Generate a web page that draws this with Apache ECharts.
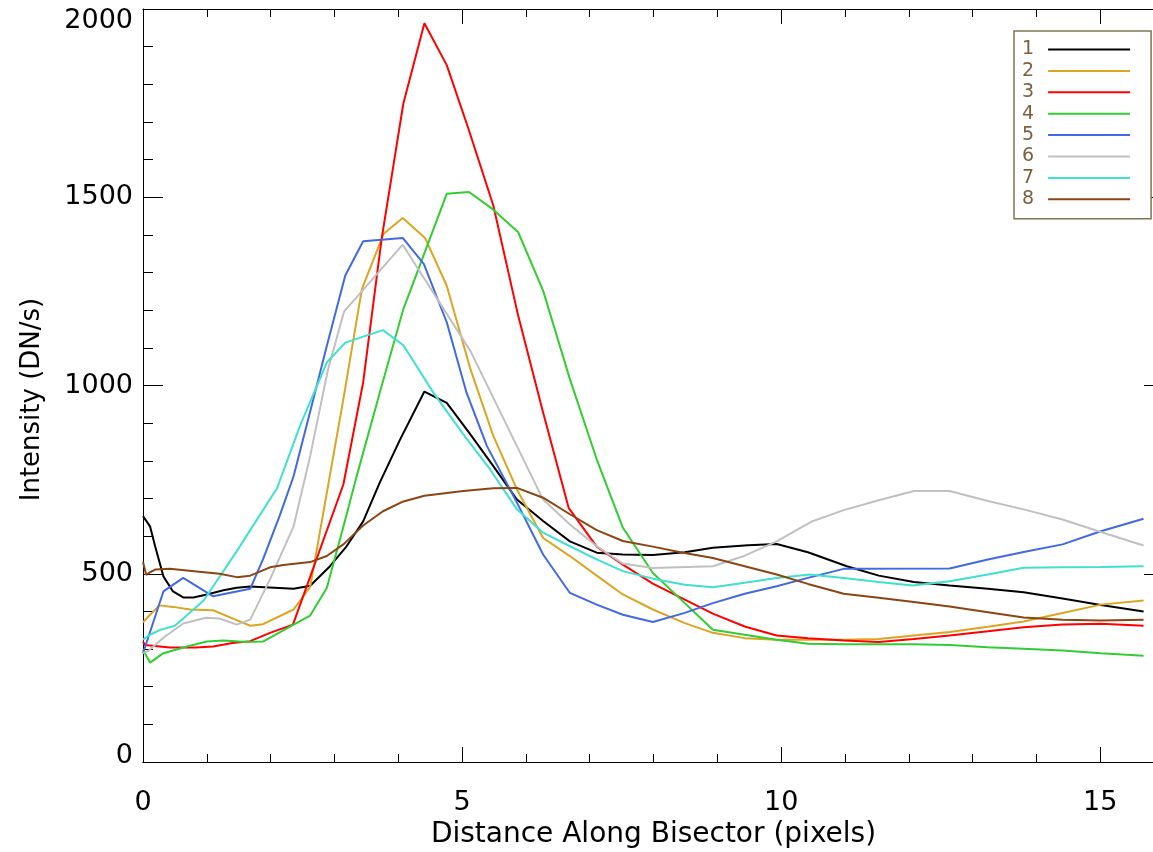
<!DOCTYPE html>
<html><head><meta charset="utf-8">
<script src="https://cdn.jsdelivr.net/npm/echarts@6/dist/echarts.min.js"></script>
<style>html,body{margin:0;padding:0;background:#fff}#c{width:1153px;height:852px}</style>
</head><body><div id="c"></div>
<script>
const seriesNames = ['1','2','3','4','5','6','7','8'];
const seriesColors = ['#000000','#DAA520','#FF0000','#32CD32','#4169E1','#C0C0C0','#40E0D0','#8B4513'];
const xTickLabels = [0,5,10,15];
const yTickLabels = [0,500,1000,1500,2000];

const line1 = [[0,653],[0.03,655],[0.11,626],[0.19,573],[0.32,493],[0.47,453],[0.63,437],[0.79,437],[1.0,445],[1.26,456],[1.47,463],[1.68,466],[2.36,460],[2.62,468],[2.93,520],[3.19,573],[3.45,639],[3.71,742],[4.03,857],[4.41,984],[4.76,954],[5.13,870],[5.49,786],[5.86,697],[6.27,640],[6.69,586],[7.11,556],[7.52,551],[7.99,550],[8.49,557],[8.93,569],[9.48,576],[9.93,579],[10.42,557],[11.03,520],[11.53,495],[12.08,478],[12.64,469],[13.24,460],[13.8,451],[14.41,434],[15.01,417],[15.68,400]];
const line2 = [[0,371],[0.11,391],[0.26,416],[0.47,412],[0.74,405],[1.1,403],[1.42,380],[1.68,362],[1.88,366],[2.36,405],[2.62,465],[3.14,964],[3.43,1256],[3.77,1403],[4.07,1445],[4.42,1392],[4.76,1265],[5.13,1044],[5.49,866],[5.86,724],[6.27,595],[6.69,547],[7.11,495],[7.52,445],[7.99,405],[8.49,369],[8.93,343],[9.43,329],[9.93,325],[10.42,325],[10.98,325],[11.53,327],[12.08,336],[12.64,345],[13.24,359],[13.8,373],[14.41,396],[15.01,418],[15.68,429]];
const line3 = [[0,320],[0.03,311],[0.15,309],[0.42,304],[0.82,304],[1.1,307],[1.4,316],[1.68,321],[1.99,343],[2.35,365],[3.14,737],[3.45,1008],[3.74,1390],[4.08,1749],[4.41,1962],[4.76,1851],[5.1,1682],[5.49,1478],[5.88,1185],[6.27,928],[6.67,675],[7.11,572],[7.52,524],[7.99,474],[8.49,431],[8.93,394],[9.43,360],[9.93,336],[10.42,329],[10.98,323],[11.53,319],[12.08,327],[12.64,336],[13.24,347],[13.8,358],[14.41,365],[15.01,367],[15.68,362]];
const line4 = [[0,298],[0.11,264],[0.32,289],[0.69,307],[1.0,320],[1.26,323],[1.62,319],[1.88,320],[2.36,365],[2.62,389],[2.88,462],[3.14,625],[3.35,760],[3.71,981],[4.08,1203],[4.76,1509],[5.11,1514],[5.49,1467],[5.88,1407],[6.27,1252],[6.69,1017],[7.11,804],[7.52,622],[7.99,502],[8.49,422],[8.93,351],[9.43,338],[9.93,325],[10.42,314],[10.98,313],[12.08,313],[12.64,311],[13.24,305],[13.8,301],[14.41,296],[15.01,289],[15.68,282]];
const line5 = [[0,289],[0.32,453],[0.63,489],[1.1,440],[1.68,460],[1.88,538],[2.14,653],[2.36,759],[2.67,964],[2.88,1105],[3.17,1292],[3.45,1383],[4.07,1392],[4.4,1323],[4.76,1168],[5.07,981],[5.39,839],[5.86,689],[6.27,551],[6.69,449],[7.11,418],[7.52,391],[7.99,372],[8.49,396],[8.93,422],[9.43,447],[9.93,467],[10.42,489],[10.98,513],[12.64,514],[13.24,538],[13.8,558],[14.41,578],[15.01,613],[15.68,646]];
const line6 = [[0,289],[0.09,296],[0.32,330],[0.63,368],[0.99,383],[1.2,381],[1.47,365],[1.68,378],[1.99,485],[2.36,626],[2.62,813],[2.9,1043],[3.15,1196],[4.07,1374],[5.13,1092],[6.27,697],[6.69,631],[7.11,573],[7.52,527],[7.99,515],[8.93,520],[9.43,548],[9.93,586],[10.47,638],[10.98,669],[11.53,695],[12.08,720],[12.64,720],[13.24,693],[13.8,671],[14.41,644],[15.01,611],[15.68,575]];
const line7 = [[0,325],[0.11,338],[0.27,351],[0.5,362],[0.95,429],[1.47,560],[2.1,727],[2.46,893],[2.88,1061],[3.17,1114],[3.76,1147],[4.08,1107],[4.55,981],[5.02,870],[5.44,777],[5.86,671],[6.27,609],[6.69,573],[7.11,538],[7.52,507],[7.99,487],[8.49,471],[8.93,464],[9.43,476],[9.93,489],[10.45,498],[10.98,489],[11.53,478],[12.06,469],[12.64,480],[13.24,498],[13.8,516],[14.41,517],[15.01,518],[15.68,520]];
const line8 = [[0,531],[0.05,497],[0.11,504],[0.19,511],[0.42,513],[0.84,506],[1.2,500],[1.47,491],[1.68,495],[1.99,517],[2.2,523],[2.62,531],[2.88,547],[3.14,578],[3.45,628],[3.76,666],[4.08,692],[4.41,707],[5.02,720],[5.49,727],[5.86,728],[6.27,702],[6.69,658],[7.11,616],[7.52,587],[7.99,572],[8.42,557],[8.93,542],[9.43,520],[9.93,498],[10.42,473],[10.98,447],[11.53,436],[12.08,425],[12.64,413],[13.24,398],[13.8,384],[14.41,378],[15.01,376],[15.68,378]];
const allLines = [line1,line2,line3,line4,line5,line6,line7,line8];

const FONT = 'DejaVu Sans';
const chart = echarts.init(document.getElementById('c'), null, {renderer:'canvas'});
const axisLineStyle = {color:'#000', width:1};
function xAx(pos, interval, len, labels, extra) {
  return Object.assign({
    type:'value', gridIndex:0, position:pos, min:0, max:16, interval:interval,
    axisLine:{show:true, onZero:false, lineStyle:axisLineStyle},
    axisTick:{show:true, inside:true, length:len, lineStyle:{color:'#000', width:1}},
    axisLabel:{show:labels, color:'#000', fontFamily:FONT, fontSize:27, margin:27,
      showMaxLabel:false,
      formatter: v => xTickLabels.includes(v) ? String(v) : ''},
    splitLine:{show:false}
  }, extra || {});
}
function yAx(pos, labels, extra) {
  return Object.assign({
    type:'value', position:pos, min:0, max:2000, interval:500,
    axisLine:{show:true, onZero:false, lineStyle:axisLineStyle},
    axisTick:{show:true, inside:true, length:20, lineStyle:{color:'#000', width:1}},
    minorTick:{show:true, splitNumber:5, length:10, lineStyle:{color:'#000', width:1}},
    axisLabel:{show:labels, color:'#000', fontFamily:FONT, fontSize:27, margin:10,
      formatter: v => {
        if (!yTickLabels.includes(v)) return '';
        if (v === yTickLabels[0]) return '{lo|' + v + '}';
        if (v === yTickLabels[yTickLabels.length-1]) return '{hi|' + v + '}';
        return String(v);
      },
      rich:{
        lo:{fontFamily:FONT, fontSize:27, color:'#000', padding:[0,0,12,0]},
        hi:{fontFamily:FONT, fontSize:27, color:'#000', padding:[24,0,0,0]}
      }},
    splitLine:{show:false}, minorSplitLine:{show:false}
  }, extra || {});
}
const option = {
  backgroundColor:'#fff',
  animation:false,
  grid:{left:143, top:9, width:1021, height:753, containLabel:false, outerBoundsMode:'none'},
  xAxis:[
    xAx('bottom', 1, 8, false),
    xAx('bottom', 5, 15, true, {name:'Distance Along Bisector (pixels)', nameLocation:'middle', nameGap:49,
      nameTextStyle:{fontFamily:FONT, fontSize:28, color:'#000'}}),
    xAx('top', 1, 8, false),
    xAx('top', 5, 15, false)
  ],
  yAxis:[
    yAx('left', true, {name:'Intensity (DN/s)', nameLocation:'middle', nameGap:98,
      nameTextStyle:{fontFamily:FONT, fontSize:26, color:'#000', padding:[0,28,0,0]}}),
    yAx('right', false)
  ],
  legend:{
    orient:'vertical', left:1014, top:31, align:'right',
    icon:'rect', itemWidth:82, itemHeight:2, itemGap:2.4,
    padding:[9,21,10,8], borderColor:'#7f7555', borderWidth:1.5, backgroundColor:'#fff',
    textStyle:{fontFamily:FONT, fontSize:19, color:'#7b6040', padding:[0,9,0,0]},
    data: seriesNames
  },
  series: seriesNames.map((n,i)=>({
    name:n, type:'line', xAxisIndex:1, yAxisIndex:0, data:allLines[i],
    symbol:'none', showSymbol:false, smooth:false,
    lineStyle:{color:seriesColors[i], width:2}, itemStyle:{color:seriesColors[i]},
    clip:true
  }))
};
chart.setOption(option);
</script></body></html>
